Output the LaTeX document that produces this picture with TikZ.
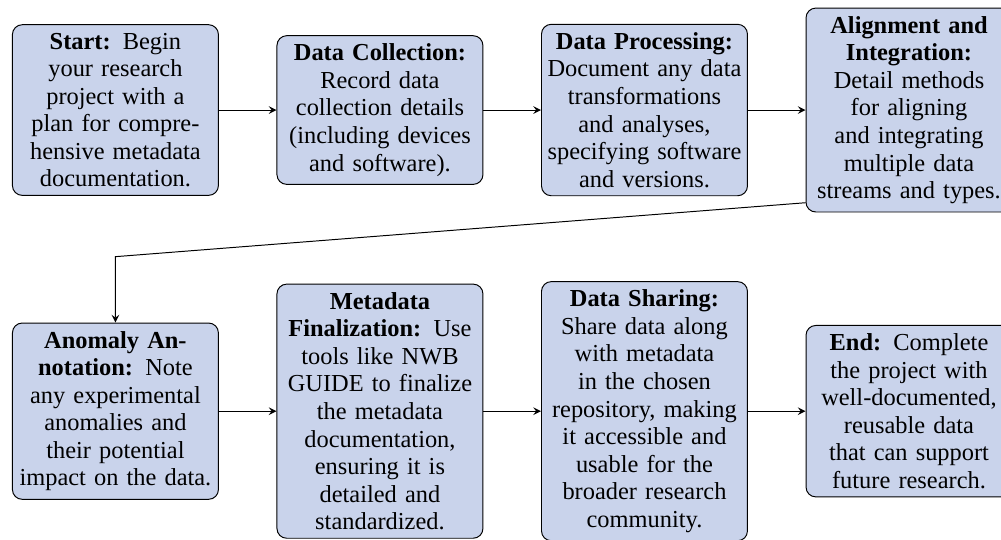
\documentclass[tikz,border=0pt]{standalone}
\usepackage{fontspec}
\setmainfont{Liberation Serif}
\usetikzlibrary{positioning,chains}
\definecolor{stepfill}{RGB}{201,211,235}
\tikzset{stepbox/.style={draw, fill=stepfill, rounded corners, text width=82pt,
    inner xsep=1.2pt, align=center, font=\fontsize{10}{11.3}\selectfont}}

\begin{document}
\begin{tikzpicture}[start chain=1 going right, start chain=2 going right,
  node distance=23.6pt,
  every join/.style=-stealth
  ]
  \useasboundingbox (-4.9pt,45.1pt) rectangle ++(410.2pt,-220.9pt);

  \node [on chain=1, stepbox, anchor=west] (t1) at (0,0)
    {\textbf{Start:} Begin\\ your research\\ project with a\\ plan for compre-\\hensive metadata\\ documentation.};

  \foreach \txt [count=\i from 2] in {
    {\textbf{Data Collection:}\\ Record data\\ collection details\\ (including devices\\ and software).},
    {\textbf{Data Processing:}\\ Document any data\\ transformations\\ and analyses,\\ specifying software\\ and versions.},
    {\textbf{Alignment and\\ Integration:}\\ Detail methods\\ for aligning\\ and integrating\\ multiple data\\ streams and types.}}{
    \node [on chain=1, stepbox, join] (t\i) {\txt};
  }

  \node [on chain=2, stepbox, anchor=west] (b1) at ([yshift=-123.4pt]t1.west)
    {\textbf{Anomaly An-\\notation:} Note\\ any experimental\\ anomalies and\\ their potential\\ impact on the data.};

  \foreach \txt [count=\i from 2] in {
    {\textbf{Metadata\\ Finalization:} Use\\ tools like NWB\\ GUIDE to finalize\\ the metadata\\ documentation,\\ ensuring it is\\ detailed and\\ standardized.},
    {\textbf{Data Sharing:}\\ Share data along\\ with metadata\\ in the chosen\\ repository, making\\ it accessible and\\ usable for the\\ broader research\\ community.},
    {\textbf{End:} Complete\\ the project with\\ well-documented,\\ reusable data\\ that can support\\ future research.}}{
    \node [on chain=2, stepbox, join] (b\i) {\txt};
  }

  % row change
  \coordinate (turn) at ([yshift=27pt]b1.north);
  \draw [-stealth] ([yshift=4pt]t4.south west) -- (turn) -- (b1);
\end{tikzpicture}
\end{document}
